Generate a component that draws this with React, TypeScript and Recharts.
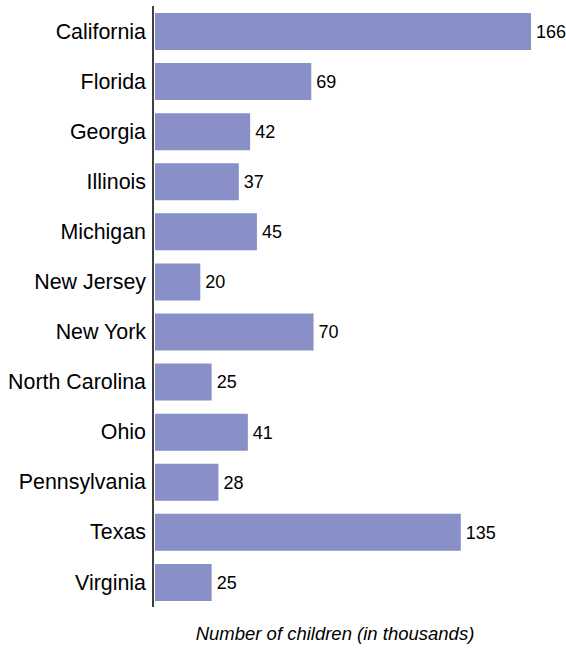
import { Bar, BarChart, LabelList, XAxis, YAxis } from "recharts"

const states = [
  "California",
  "Florida",
  "Georgia",
  "Illinois",
  "Michigan",
  "New Jersey",
  "New York",
  "North Carolina",
  "Ohio",
  "Pennsylvania",
  "Texas",
  "Virginia",
]

const children = [166, 69, 42, 37, 45, 20, 70, 25, 41, 28, 135, 25]

const axisTitle = "Number of children (in thousands)"

const data = states.map((state, i) => ({ state, value: children[i] }))

export default function App() {
  return (
    <div style={{ position: "absolute", left: 0, top: 0, fontFamily: "'Liberation Sans', Arial, sans-serif" }}>
      <BarChart
        width={566}
        height={651}
        data={data}
        layout="vertical"
        margin={{ top: 6, right: 35, bottom: 0, left: 0 }}
      >
        <XAxis
          type="number"
          domain={[0, 166]}
          padding={{ left: 2 }}
          tick={false}
          tickLine={false}
          axisLine={false}
          height={44}
          label={{
            value: axisTitle,
            position: "insideBottom",
            offset: 11,
            dx: -7,
            style: { fontSize: 18.5, fontStyle: "italic", fill: "#000" },
          }}
        />
        <YAxis
          type="category"
          dataKey="state"
          width={153}
          interval={0}
          tickLine={false}
          tickSize={6}
          tickMargin={1}
          axisLine={{ stroke: "#000", strokeWidth: 1.5 }}
          tick={{ fill: "#000", fontSize: 21.4 }}
        />
        <Bar dataKey="value" fill="#898fc7" barSize={37} isAnimationActive={false}>
          <LabelList dataKey="value" position="right" offset={5} fill="#000" fontSize={18} />
        </Bar>
      </BarChart>
    </div>
  )
}
